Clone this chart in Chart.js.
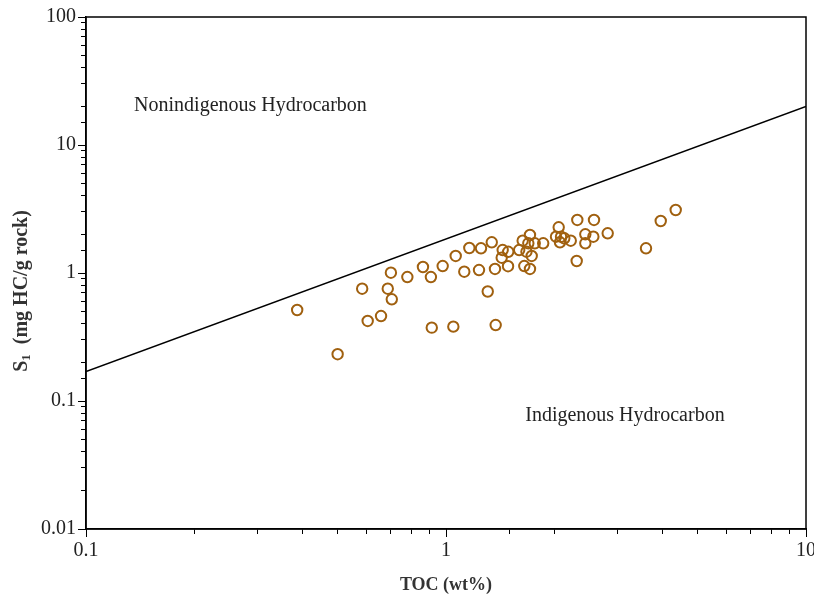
<!DOCTYPE html>
<html>
<head>
<meta charset="utf-8">
<script src="https://cdn.jsdelivr.net/npm/chart.js@4/dist/chart.umd.min.js"></script>
<style>
html,body{margin:0;padding:0;background:#fff;overflow:hidden;}
#wrap{width:830px;height:596px;}
</style>
</head>
<body>
<div id="wrap"><canvas id="c" width="830" height="596"></canvas></div>
<script>
// TOC (wt%) values of samples
const tocValues = [0.386,0.500,0.585,0.606,0.660,0.689,0.703,0.707,0.781,0.863,
  0.908,0.913,0.979,1.048,1.064,1.124,1.161,1.235,1.251,1.306,
  1.340,1.374,1.368,1.437,1.428,1.487,1.489,1.597,1.633,1.650,
  1.711,1.711,1.730,1.693,1.764,1.862,1.673,2.056,2.021,2.087,
  2.073,2.131,2.221,2.307,2.316,2.577,2.438,2.566,2.438,2.813,
  3.594,3.949,4.346];
// S1 (mg HC/g rock) values of samples
const s1Values = [0.514,0.232,0.754,0.422,0.461,0.754,1.005,0.623,0.930,1.114,
  0.930,0.374,1.134,0.381,1.358,1.024,1.568,1.055,1.560,0.717,
  1.738,0.392,1.075,1.512,1.317,1.130,1.464,1.512,1.788,1.134,
  1.981,1.075,1.358,1.706,1.706,1.706,1.467,2.275,1.921,1.921,
  1.738,1.867,1.788,1.241,2.595,2.595,2.006,1.921,1.706,2.042,
  1.560,2.548,3.106];
// Dividing line endpoints (TOC, S1)
const lineToc = [0.1, 10];
const lineS1 = [0.17, 20];
// Axis tick labels (powers of ten)
const xTickLabels = [0.1, 1, 10];
const yTickLabels = [0.01, 0.1, 1, 10, 100];
// Region labels (anchored at data coordinates)
const regionLabels = [
  {text: 'Nonindigenous Hydrocarbon', x: 0.136, y: 20.2},
  {text: 'Indigenous Hydrocarbon', x: 1.66, y: 0.077}
];

const FONT = "'Liberation Serif', 'Times New Roman', serif";

const scatterData = tocValues.map((v, i) => ({x: v, y: s1Values[i]}));
const lineData = lineToc.map((v, i) => ({x: v, y: lineS1[i]}));

const decorPlugin = {
  id: 'decor',
  afterDraw(chart) {
    const ctx = chart.ctx;
    const a = chart.chartArea;
    const xs = chart.scales.x, ys = chart.scales.y;
    ctx.save();
    // frame
    ctx.strokeStyle = '#000';
    ctx.lineWidth = 1.5;
    ctx.strokeRect(a.left, a.top, a.right - a.left, a.bottom - a.top);
    // longer major ticks at the labelled powers of ten
    ctx.lineWidth = 1;
    ctx.beginPath();
    xTickLabels.forEach(v => {
      const px = Math.round(xs.getPixelForValue(v)) + 0.5;
      ctx.moveTo(px, a.bottom); ctx.lineTo(px, a.bottom + 8);
    });
    yTickLabels.forEach(v => {
      const py = Math.round(ys.getPixelForValue(v)) + 0.5;
      ctx.moveTo(a.left, py); ctx.lineTo(a.left - 8, py);
    });
    ctx.stroke();
    // region labels
    ctx.fillStyle = '#222';
    ctx.font = '20px ' + FONT;
    ctx.textAlign = 'left';
    ctx.textBaseline = 'middle';
    regionLabels.forEach(r => {
      ctx.fillText(r.text, xs.getPixelForValue(r.x), ys.getPixelForValue(r.y));
    });
    // x title
    ctx.fillStyle = '#333';
    ctx.font = 'bold 18px ' + FONT;
    ctx.textAlign = 'center';
    ctx.fillText('TOC (wt%)', (a.left + a.right) / 2, 585);
    // y title with subscript
    ctx.translate(22, 291);
    ctx.rotate(-Math.PI / 2);
    ctx.textAlign = 'left';
    const partS = 'S';
    const partSub = '1';
    const partRest = '  (mg HC/g rock)';
    ctx.font = 'bold 20px ' + FONT;
    const wS = ctx.measureText(partS).width;
    const wR = ctx.measureText(partRest).width;
    ctx.font = 'bold 13px ' + FONT;
    const wSub = ctx.measureText(partSub).width;
    let x0 = -(wS + wSub + wR) / 2;
    ctx.font = 'bold 20px ' + FONT;
    ctx.fillText(partS, x0, 0);
    ctx.font = 'bold 13px ' + FONT;
    ctx.fillText(partSub, x0 + wS, 5);
    ctx.font = 'bold 20px ' + FONT;
    ctx.fillText(partRest, x0 + wS + wSub, 0);
    ctx.restore();
  }
};

new Chart(document.getElementById('c'), {
  data: {
    datasets: [
      {
        type: 'line',
        data: lineData,
        borderColor: '#000',
        borderWidth: 1.6,
        pointRadius: 0,
        fill: false,
        tension: 0,
        order: 2
      },
      {
        type: 'scatter',
        data: scatterData,
        pointStyle: 'circle',
        pointRadius: 5.2,
        pointBorderWidth: 2,
        pointBorderColor: '#A0600F',
        pointBackgroundColor: 'rgba(255,255,255,0)',
        order: 1
      }
    ]
  },
  options: {
    responsive: false,
    animation: false,
    layout: {padding: {left: 0, right: 24, top: 17, bottom: 0}},
    plugins: {legend: {display: false}, tooltip: {enabled: false}},
    scales: {
      x: {
        type: 'logarithmic',
        min: 0.1, max: 10,
        border: {display: true, color: '#000', width: 1.5},
        grid: {drawOnChartArea: false, drawTicks: true, tickLength: 5, color: '#000', lineWidth: 1},
        ticks: {
          color: '#222',
          font: {family: FONT, size: 20},
          padding: 5,
          autoSkip: false,
          maxRotation: 0,
          callback: (v) => xTickLabels.some(t => Math.abs(t - v) < 1e-9) ? String(v) : ''
        },
        afterFit: (s) => { s.height = 67; }
      },
      y: {
        type: 'logarithmic',
        min: 0.01, max: 100,
        border: {display: true, color: '#000', width: 1.5},
        grid: {drawOnChartArea: false, drawTicks: true, tickLength: 5, color: '#000', lineWidth: 1},
        ticks: {
          color: '#222',
          font: {family: FONT, size: 20},
          padding: 5,
          autoSkip: false,
          callback: (v) => yTickLabels.some(t => Math.abs(t - v) < 1e-12) ? String(v) : ''
        },
        afterFit: (s) => { s.width = 86; }
      }
    }
  },
  plugins: [decorPlugin]
});
</script>
</body>
</html>
